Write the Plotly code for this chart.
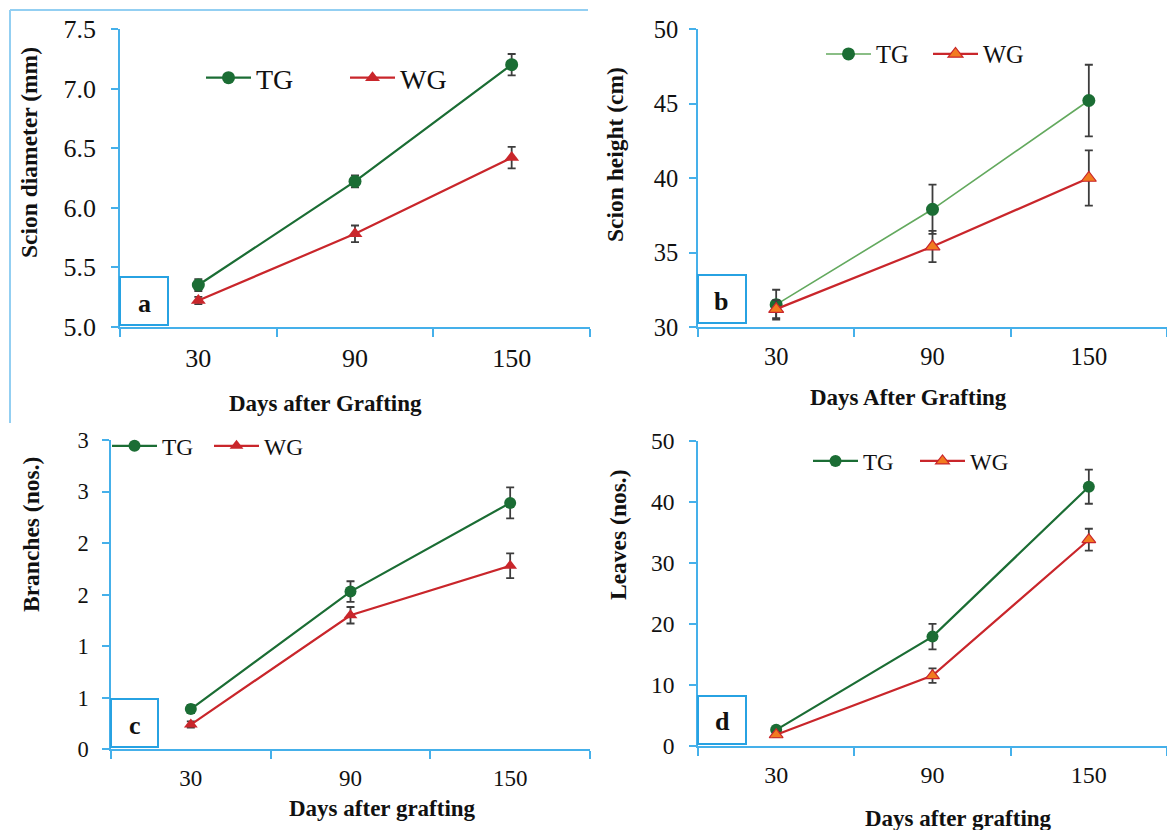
import plotly.graph_objects as go

# ---------------- data ----------------
days = [30, 90, 150]

diam_tg = [5.35, 6.22, 7.20]
diam_tg_err = [0.05, 0.05, 0.09]
diam_wg = [5.22, 5.78, 6.42]
diam_wg_err = [0.03, 0.07, 0.09]

height_tg = [31.5, 37.9, 45.2]
height_tg_err = [1.0, 1.65, 2.4]
height_wg = [31.2, 35.4, 40.0]
height_wg_err = [0.6, 1.05, 1.85]

branch_tg = [0.39, 1.53, 2.39]
branch_tg_err = [0.04, 0.10, 0.15]
branch_wg = [0.24, 1.30, 1.78]
branch_wg_err = [0.03, 0.08, 0.12]

leaves_tg = [2.6, 17.9, 42.5]
leaves_tg_err = [0.5, 2.1, 2.8]
leaves_wg = [1.8, 11.5, 33.8]
leaves_wg_err = [0.4, 1.2, 1.8]

series_names = ["TG", "WG"]
x_title_a = "Days after Grafting"
x_title_b = "Days After Grafting"
x_title_cd = "Days after grafting"
y_titles = ["Scion diameter (mm)", "Scion height (cm)", "Branches (nos.)", "Leaves (nos.)"]
panel_letters = ["a", "b", "c", "d"]
c_tickvals = [0, 0.5, 1, 1.5, 2, 2.5, 3]
c_ticktext = ["0", "1", "1", "2", "2", "3", "3"]

# ---------------- styling ----------------
W, H = 1167, 830
FONT = "Liberation Serif"
AX = "#45b0ea"
FRAME = "#93cff2"
BOX = "#27a2e2"
GREEN = "#1b6d34"
LGREEN = "#63a95e"
RED = "#c9262b"
ORANGE = "#f27b1f"
ERR = "#3d3d3d"


def px(x):
    return x / W


def py(y):
    return 1 - y / H


fig = go.Figure()

panels = [
    ("a", "x", "y", "legend", diam_tg, diam_tg_err, diam_wg, diam_wg_err, GREEN, 2.2, RED, 13),
    ("b", "x2", "y2", "legend2", height_tg, height_tg_err, height_wg, height_wg_err, LGREEN, 1.6, ORANGE, 13),
    ("c", "x3", "y3", "legend3", branch_tg, branch_tg_err, branch_wg, branch_wg_err, GREEN, 2.2, RED, 12),
    ("d", "x4", "y4", "legend4", leaves_tg, leaves_tg_err, leaves_wg, leaves_wg_err, GREEN, 2.2, ORANGE, 12),
]

for (name, xa, ya, lg, tg, tge, wg, wge, tgcol, tgw, wgfill, ms) in panels:
    fig.add_trace(go.Scatter(
        x=days, y=tg, name=series_names[0], mode="lines+markers",
        xaxis=xa, yaxis=ya, legend=lg,
        line=dict(color=tgcol, width=tgw),
        marker=dict(symbol="circle", size=ms, color=GREEN, line=dict(width=0)),
        error_y=dict(type="data", array=tge, color=ERR, thickness=1.8, width=4),
        cliponaxis=False,
    ))
    fig.add_trace(go.Scatter(
        x=days, y=wg, name=series_names[1], mode="lines+markers",
        xaxis=xa, yaxis=ya, legend=lg,
        line=dict(color=RED, width=2.2),
        marker=dict(symbol="triangle-up", size=ms, color=wgfill,
                    line=dict(width=1.2 if wgfill == ORANGE else 0, color=RED)),
        error_y=dict(type="data", array=wge, color=ERR, thickness=1.8, width=4),
        cliponaxis=False,
    ))

geo = {
    "a": dict(x0=120, x1=590, y0=29, y1=326.7, yr=[5.0, 7.5], dtick=0.5, fmt=".1f", tfs=26, xtfs=26, ys=10),
    "b": dict(x0=698, x1=1167, y0=29, y1=327, yr=[30, 50], dtick=5, fmt="", tfs=24.5, xtfs=24.5, ys=6),
    "c": dict(x0=111, x1=590, y0=440, y1=749.3, yr=[0, 3], dtick=None, fmt="", tfs=22.5, xtfs=23, ys=9),
    "d": dict(x0=698, x1=1167, y0=441, y1=745.7, yr=[0, 50], dtick=10, fmt="", tfs=23.5, xtfs=24, ys=10),
}

axis_ids = {"a": ("xaxis", "yaxis", "x", "y"), "b": ("xaxis2", "yaxis2", "x2", "y2"),
            "c": ("xaxis3", "yaxis3", "x3", "y3"), "d": ("xaxis4", "yaxis4", "x4", "y4")}

layout_axes = {}
overlay_n = 5
for key, g in geo.items():
    xk, yk, xid, yid = axis_ids[key]
    xdom = [px(g["x0"]), px(g["x1"])]
    ydom = [py(g["y1"]), py(g["y0"])]
    layout_axes[xk] = dict(
        domain=xdom, anchor=yid, range=[0, 180], type="linear", automargin=False,
        tickmode="array", tickvals=days, ticktext=[str(d) for d in days],
        ticks="", showline=True, linecolor=AX, linewidth=1.6,
        showgrid=False, zeroline=False,
        tickfont=dict(family=FONT, size=g["xtfs"], color="#111"),
        ticklabelstandoff=7,
        minor=dict(tickmode="array", tickvals=[0, 60, 120, 180], ticks="outside",
                   ticklen=8, tickwidth=1.6, tickcolor=AX),
        fixedrange=True,
    )
    ydict = dict(
        domain=ydom, anchor=xid, range=g["yr"], showline=True, linecolor=AX, linewidth=1.6,
        ticks="outside", ticklen=7, tickwidth=1.6, tickcolor=AX, automargin=False,
        showgrid=False, zeroline=False,
        tickfont=dict(family=FONT, size=g["tfs"], color="#111"),
        ticklabelstandoff=g["ys"], fixedrange=True,
    )
    if g["dtick"] is None:
        ydict.update(tickmode="array", tickvals=c_tickvals, ticktext=c_ticktext)
    else:
        ydict.update(tickmode="linear", tick0=g["yr"][0], dtick=g["dtick"])
        if g["fmt"]:
            ydict["tickformat"] = g["fmt"]
    layout_axes[yk] = ydict

    if key != "a":
        ox = f"xaxis{overlay_n}"
        oy = f"yaxis{overlay_n}"
        layout_axes[ox] = dict(
            overlaying=xid, anchor=yid, range=[0, 180], tickmode="array", automargin=False,
            tickvals=[0, 60, 120, 180], ticks="inside", ticklen=7, tickwidth=1.6, tickcolor=AX,
            showticklabels=False, showline=False, showgrid=False, zeroline=False, fixedrange=True,
        )
        oyd = dict(
            overlaying=yid, anchor=xid, range=g["yr"], ticks="inside", ticklen=7, tickwidth=1.6,
            tickcolor=AX, showticklabels=False, showline=False, showgrid=False, zeroline=False,
            fixedrange=True, automargin=False,
        )
        if key == "c":
            oyd.update(tickmode="array", tickvals=c_tickvals)
        else:
            oyd.update(tickmode="linear", tick0=g["yr"][0], dtick=g["dtick"])
        layout_axes[oy] = oyd
        overlay_n += 1

fig.update_layout(**layout_axes)


def legend_cfg(x, y, size, entry):
    return dict(
        x=px(x), y=py(y), xanchor="left", yanchor="middle", orientation="h",
        bgcolor="rgba(0,0,0,0)", borderwidth=0, entrywidth=entry, entrywidthmode="pixels",
        itemwidth=45,
        font=dict(family=FONT, size=size, color="#111"), itemclick=False, itemdoubleclick=False,
    )


fig.update_layout(
    legend=legend_cfg(201, 78, 28, 84),
    legend2=legend_cfg(821, 54, 24.5, 47),
    legend3=legend_cfg(107, 446, 23.5, 42),
    legend4=legend_cfg(808, 461, 23, 47),
)

shapes = []
annotations = []

shapes.append(dict(type="line", xref="paper", yref="paper", x0=px(10), x1=px(10),
                   y0=py(10), y1=py(423), line=dict(color=FRAME, width=2)))
shapes.append(dict(type="line", xref="paper", yref="paper", x0=px(10), x1=px(588),
                   y0=py(10), y1=py(10), line=dict(color=FRAME, width=2)))

boxes = {
    "a": (120, 168, 277, 325, 144, 303),
    "b": (698, 746, 275, 323, 721, 301),
    "c": (111, 158, 699, 747, 135, 725),
    "d": (698, 746, 696, 744, 722, 721),
}
for letter in panel_letters:
    x0, x1, y0, y1, cx, cy = boxes[letter]
    shapes.append(dict(type="rect", xref="paper", yref="paper", x0=px(x0), x1=px(x1),
                       y0=py(y1), y1=py(y0), line=dict(color=BOX, width=2), layer="above"))
    annotations.append(dict(text=f"<b>{letter}</b>", xref="paper", yref="paper", x=px(cx), y=py(cy),
                            showarrow=False, xanchor="center", yanchor="middle",
                            font=dict(family=FONT, size=26, color="#111")))

ytitle_pos = [(29, 153), (615, 155), (31, 535), (618, 535)]
for t, (x, y) in zip(y_titles, ytitle_pos):
    annotations.append(dict(text=f"<b>{t}</b>", xref="paper", yref="paper", x=px(x), y=py(y),
                            showarrow=False, textangle=-90, xanchor="center", yanchor="middle",
                            font=dict(family=FONT, size=23.5, color="#111")))

xtitles = [(x_title_a, 325, 404), (x_title_b, 908, 397), (x_title_cd, 382, 808), (x_title_cd, 958, 818)]
for t, x, y in xtitles:
    annotations.append(dict(text=f"<b>{t}</b>", xref="paper", yref="paper", x=px(x), y=py(y),
                            showarrow=False, xanchor="center", yanchor="middle",
                            font=dict(family=FONT, size=23, color="#111")))

fig.update_layout(
    width=W, height=H, autosize=False,
    margin=dict(l=0, r=0, t=0, b=0, autoexpand=False),
    paper_bgcolor="white", plot_bgcolor="white",
    shapes=shapes, annotations=annotations,
    font=dict(family=FONT, color="#111"),
)

fig.write_html("out.html", config={"displayModeBar": False},
               post_script="document.body.style.margin='0px';document.body.style.overflow='hidden';")
